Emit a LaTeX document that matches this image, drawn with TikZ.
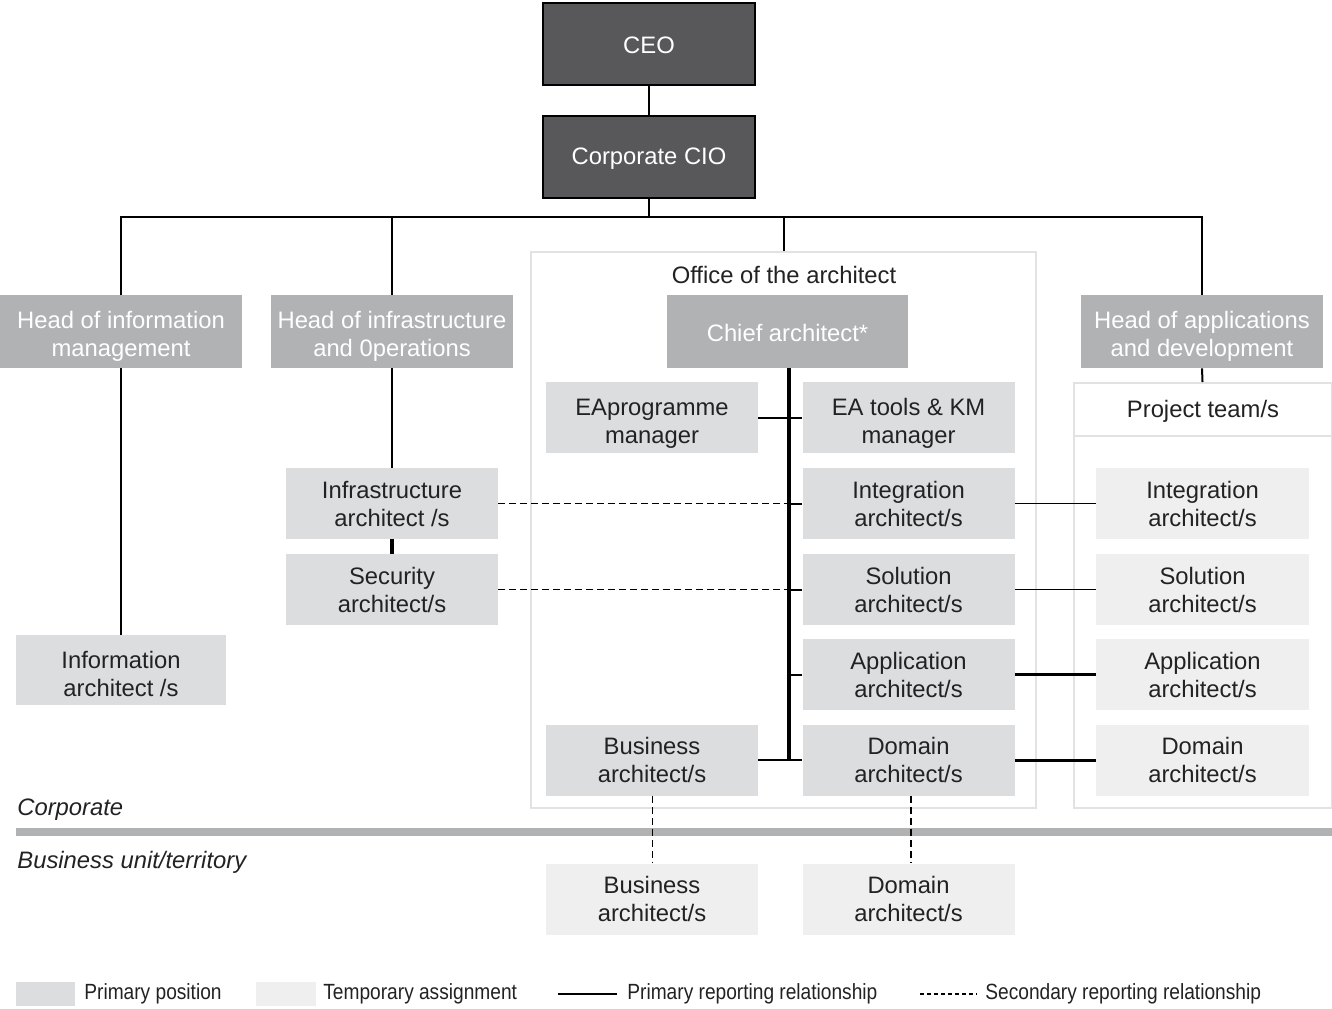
\documentclass[tikz,border=0pt]{standalone}
\usepackage{fontspec}
\setmainfont{Liberation Sans}
\usepackage{tikz}
\usetikzlibrary{calc}
\definecolor{topfill}{RGB}{88,88,90}
\definecolor{headfill}{RGB}{177,178,180}
\definecolor{primfill}{RGB}{220,221,223}
\definecolor{tempfill}{RGB}{239,239,239}
\definecolor{framegray}{RGB}{226,226,226}
\definecolor{txt}{RGB}{34,34,34}
\newcommand{\legtext}[1]{\scalebox{0.87}[1]{#1}}
\newcommand{\headstrut}{\rule{0pt}{13.5pt}}
\newcommand{\lowstrut}[1]{\rule{0pt}{#1}}

\tikzset{
  base/.style={inner sep=0pt,align=center,font=\fontsize{11.9}{14}\selectfont},
  topbox/.style={base,draw=black,line width=1pt,fill=topfill,text=white,
    minimum width=106pt,minimum height=41pt,execute at begin node={\rule{0pt}{10pt}}},
  headbox/.style={base,fill=headfill,text=white,minimum width=121pt,minimum height=36.5pt},
  primbox/.style={base,fill=primfill,text=txt,minimum width=106pt,minimum height=35.5pt},
  tempbox/.style={base,fill=tempfill,text=txt,minimum width=106.5pt,minimum height=35.5pt},
  framebox/.style={draw=framegray,line width=1pt,fill=white,inner sep=0pt},
  link/.style={line width=1pt},
  spine/.style={line width=2pt},
  thinlink/.style={line width=0.5pt},
  seclink/.style={line width=0.5pt,dash pattern=on 3.5pt off 2pt},
  thicksec/.style={line width=1.4pt,dash pattern=on 3.5pt off 2pt},
  legend/.style={inner sep=0pt,anchor=west,text=txt,font=\fontsize{11}{13}\selectfont},
}

\begin{document}
\begin{tikzpicture}[x=0.5pt,y=-0.5pt]
  \useasboundingbox (0,0) rectangle (1332,1008);

  % frames
  \node[framebox,minimum width=252.5pt,minimum height=278pt] (office) at (783.5,530) {};
  \node[framebox,minimum width=129pt,minimum height=212.5pt] (team) at (1202.5,595.5) {};
  \draw[framegray,line width=1pt] (1073,436) -- (1332,436);
  \node[base,text=txt] (officelbl) at (784,275) {Office of the architect};
  \node[base,text=txt] (teamlbl) at (1203,411) {Project team/s};

  % top of the chart
  \node[topbox] (ceo) at (649,44) {CEO};
  \node[topbox] (cio) at (649,156.5) {Corporate CIO};
  \coordinate (bus) at (649,217);

  \node[headbox] (headinfo) at (121,331.5) {\headstrut Head of information\\management};
  \node[headbox] (headinfra) at (392,331.5) {\headstrut Head of infrastructure\\and 0perations};
  \node[headbox,minimum width=120.5pt] (chief) at (787.5,331.5) {\lowstrut{10.6pt}Chief architect*};
  \node[headbox] (headapps) at (1202,331.5) {\headstrut Head of applications\\and development};

  % office of the architect
  \node[primbox] (eaprog) at (652,417.5) {\lowstrut{14pt}EAprogramme\\manager};
  \node[primbox] (eatools) at (908.5,417.5) {\lowstrut{14pt}EA tools \& KM\\manager};
  \node[primbox] (integ) at (908.5,503.5) {Integration\\architect/s};
  \node[primbox] (solut) at (908.5,589.5) {Solution\\architect/s};
  \node[primbox] (applic) at (908.5,674.5) {Application\\architect/s};
  \node[primbox] (domain) at (908.5,760) {Domain\\architect/s};
  \node[primbox] (business) at (652,760) {Business\\architect/s};
  \coordinate (spinebot) at (789,760);

  % infrastructure and information
  \node[primbox] (infra) at (392,503.5) {Infrastructure\\architect /s};
  \node[primbox] (secur) at (392,589.5) {Security\\architect/s};
  \node[primbox,minimum width=105pt,minimum height=35pt] (infoarch) at (121,670) {\lowstrut{12.6pt}Information\\architect /s};

  % project teams
  \node[tempbox] (tinteg) at (1202.5,503.5) {Integration\\architect/s};
  \node[tempbox] (tsolut) at (1202.5,589.5) {Solution\\architect/s};
  \node[tempbox] (tapplic) at (1202.5,674.5) {Application\\architect/s};
  \node[tempbox] (tdomain) at (1202.5,760) {Domain\\architect/s};

  % business unit level
  \fill[headfill] (16,828) rectangle (1332,836);
  \node[base,anchor=west,text=txt,font=\fontsize{11.9}{14}\selectfont\itshape] (corplbl) at (17,810) {Corporate};
  \node[base,anchor=west,text=txt,font=\fontsize{11.9}{14}\selectfont\itshape] (bulbl) at (17,862) {Business unit/territory};
  \node[tempbox,minimum width=106pt] (bizbu) at (652,899) {Business\\architect/s};
  \node[tempbox,minimum width=106pt] (domainbu) at (908.5,899) {Domain\\architect/s};

  % primary reporting
  \draw[link] (ceo) -- (cio);
  \draw[link] (cio.south) -- (bus);
  \draw[link] (headinfo.north) |- (bus) -| (headapps.north);
  \draw[link] (headinfra.north) -- (headinfra.north |- bus);
  \draw[link] (office.north) -- (office.north |- bus);
  \draw[link] (headapps.south) -- (team.north);
  \draw[link] (headinfo.south) -- (infoarch.north);
  \draw[link] (headinfra.south) -- (infra.north);
  \draw[spine] (infra.south) -- (secur.north);
  \draw[spine] (chief.south -| spinebot) -- (spinebot);
  \draw[link] (eaprog.east) -- (eatools.west);
  \draw[link] (business.east) -- (domain.west);
  \foreach \b in {integ,solut,applic}
    \draw[link] (\b.west) -- (\b.west -| spinebot);
  \draw[thinlink] (integ.east) -- (tinteg.west);
  \draw[thinlink] (solut.east) -- (tsolut.west);
  \draw[spine,line width=1.5pt] (applic.east) -- (tapplic.west);
  \draw[spine,line width=1.5pt] (domain.east) -- (tdomain.west);

  % secondary reporting
  \draw[seclink] (infra.east) -- (infra.east -| spinebot);
  \draw[seclink] (secur.east) -- (secur.east -| spinebot);
  \draw[seclink] (business.south) -- (bizbu.north);
  \draw[thicksec] ($(domain.south)+(2.5,0)$) -- ($(domainbu.north)+(2.5,0)$);

  % legend
  \fill[primfill] (16,982) rectangle (75,1006);
  \node[legend] (lgprim) at (84,994) {\legtext{Primary position}};
  \fill[tempfill] (256,982) rectangle (316,1006);
  \node[legend] (lgtemp) at (323,994) {\legtext{Temporary assignment}};
  \coordinate (lgsolid) at (558,994);
  \draw[link,line width=1.2pt] (lgsolid) -- ++(59,0);
  \node[legend] (lgprel) at (627,994) {\legtext{Primary reporting relationship}};
  \coordinate (lgdash) at (920,994);
  \draw[line width=1.2pt,dash pattern=on 2pt off 1.5pt] (lgdash) -- ++(57,0);
  \node[legend] (lgsrel) at (985,994) {\legtext{Secondary reporting relationship}};
\end{tikzpicture}
\end{document}
